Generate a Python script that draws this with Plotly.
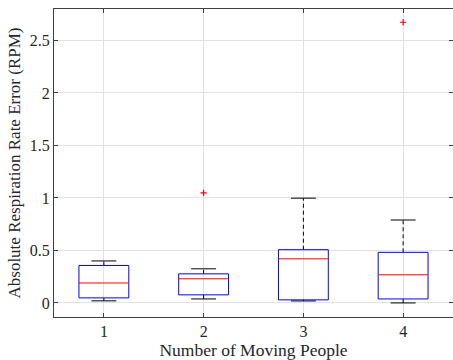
import plotly.graph_objects as go

# Data
groups = [1, 2, 3, 4]
group_labels = ["1", "2", "3", "4"]
q1 = [0.048, 0.077, 0.029, 0.038]
median = [0.19, 0.23, 0.42, 0.268]
q3 = [0.357, 0.277, 0.507, 0.482]
lower_whisker = [0.02, 0.038, 0.019, 0.0]
upper_whisker = [0.40, 0.325, 0.998, 0.79]
outlier_x = [2, 4]
outlier_y = [1.049, 2.674]

y_ticks = [0, 0.5, 1, 1.5, 2, 2.5]
y_tick_labels = ["0", "0.5", "1", "1.5", "2", "2.5"]

BOX_HALF = 0.25
CAP_HALF = 0.125
FONT = "Liberation Serif, Times New Roman, serif"
TXT = "#262626"

fig = go.Figure()

# whiskers (dashed)
wx, wy = [], []
for g, a, b, lo, hi in zip(groups, q1, q3, lower_whisker, upper_whisker):
    wx += [g, g, None, g, g, None]
    wy += [b, hi, None, a, lo, None]
fig.add_trace(go.Scatter(x=wx, y=wy, mode="lines",
                         line=dict(color="black", width=1, dash="4px,3px"),
                         hoverinfo="skip", showlegend=False))

# caps
cx, cy = [], []
for g, lo, hi in zip(groups, lower_whisker, upper_whisker):
    cx += [g - CAP_HALF, g + CAP_HALF, None, g - CAP_HALF, g + CAP_HALF, None]
    cy += [hi, hi, None, lo, lo, None]
fig.add_trace(go.Scatter(x=cx, y=cy, mode="lines",
                         line=dict(color="black", width=1),
                         hoverinfo="skip", showlegend=False))

# boxes
bx, by = [], []
for g, a, b in zip(groups, q1, q3):
    bx += [g - BOX_HALF, g + BOX_HALF, g + BOX_HALF, g - BOX_HALF, g - BOX_HALF, None]
    by += [a, a, b, b, a, None]
fig.add_trace(go.Scatter(x=bx, y=by, mode="lines",
                         line=dict(color="#0000ff", width=1),
                         hoverinfo="skip", showlegend=False))

# medians
mx, my = [], []
for g, m in zip(groups, median):
    mx += [g - BOX_HALF, g + BOX_HALF, None]
    my += [m, m, None]
fig.add_trace(go.Scatter(x=mx, y=my, mode="lines",
                         line=dict(color="#ff0000", width=1),
                         hoverinfo="skip", showlegend=False))

# outliers
fig.add_trace(go.Scatter(x=outlier_x, y=outlier_y, mode="markers",
                         marker=dict(symbol="cross-thin", size=4.5,
                                     line=dict(color="#ff0000", width=1.2)),
                         hoverinfo="skip", showlegend=False))

axis_common = dict(showline=True, linecolor="#404040", linewidth=1, mirror="ticks",
                   ticks="inside", ticklen=4, tickcolor="#404040",
                   showgrid=True, gridcolor="#e2e2e2", gridwidth=1,
                   zeroline=False, tickfont=dict(family=FONT, size=16, color=TXT))

fig.update_xaxes(range=[0.5, 4.5], tickvals=groups, ticktext=group_labels,
                 title=dict(text="Number of Moving People",
                            font=dict(family=FONT, size=17.5, color=TXT), standoff=2),
                 **axis_common)
fig.update_yaxes(range=[-0.134, 2.8], tickvals=y_ticks, ticktext=y_tick_labels,
                 title=dict(text="Absolute Respiration Rate Error (RPM)",
                            font=dict(family=FONT, size=17, color=TXT), standoff=4),
                 **axis_common)

fig.update_layout(width=453, height=360,
                  margin=dict(l=54, r=0, t=9, b=43),
                  paper_bgcolor="white", plot_bgcolor="white",
                  showlegend=False)

fig.write_html("out.html")
